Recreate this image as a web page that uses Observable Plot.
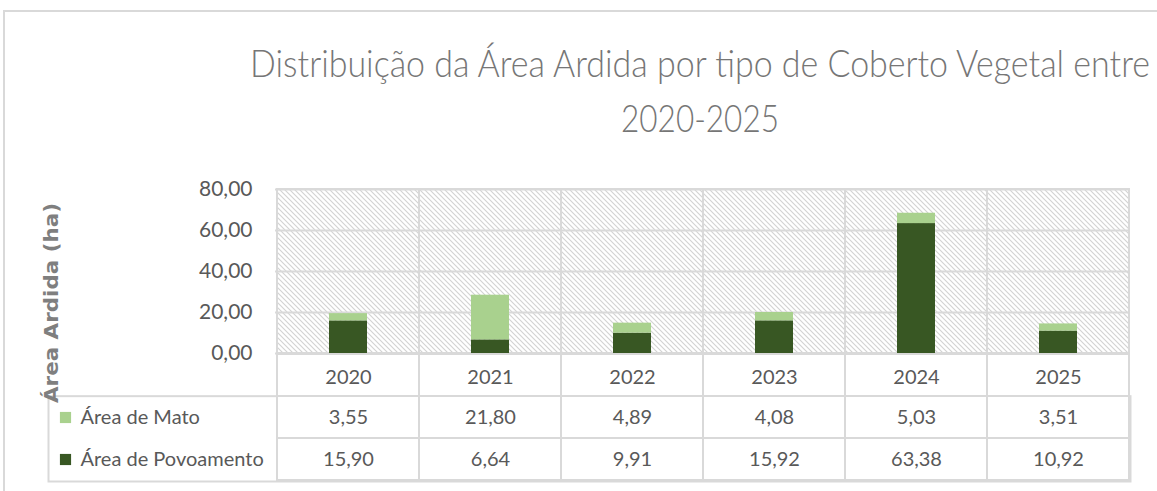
<!DOCTYPE html>
<html>
<head>
<meta charset="utf-8">
<script src="https://cdn.jsdelivr.net/npm/d3@7"></script>
<script src="https://cdn.jsdelivr.net/npm/@observablehq/plot@0.6"></script>
<style>
  html, body { margin: 0; padding: 0; background: #fff; }
  #wrap { position: relative; width: 1157px; height: 491px; overflow: hidden; background: #fff; }
  #frame { position: absolute; left: 3px; top: 10px; width: 1170px; height: 500px;
           border-top: 2px solid #d9d9d9; border-left: 2px solid #d9d9d9; box-sizing: border-box; }
  .abs { position: absolute; left: 0; }
</style>
</head>
<body>
<div id="wrap"><div id="frame"></div></div>
<script>
// ---- data ----
const years = ["2020", "2021", "2022", "2023", "2024", "2025"];
const seriesNames = ["Área de Mato", "Área de Povoamento"];
const mato = [3.55, 21.80, 4.89, 4.08, 5.03, 3.51];
const povoamento = [15.90, 6.64, 9.91, 15.92, 63.38, 10.92];
const yTicks = [0, 20, 40, 60, 80];
const seriesColors = ["#a9d18e", "#385723"];
const titleLines = ["Distribuição da Área Ardida por tipo de Coberto Vegetal entre", "2020-2025"];
const yTitle = "Área Ardida (ha)";

const fmt = v => d3.format(".2f")(v).replace(".", ",");

// long format: povoamento first so it stacks at the bottom
const long = [];
years.forEach((y, i) => {
  long.push({year: y, series: "Área de Povoamento", value: povoamento[i]});
  long.push({year: y, series: "Área de Mato", value: mato[i]});
});
const tableVals = [];
years.forEach((y, i) => {
  tableVals.push({year: y, series: "Área de Mato", value: mato[i]});
  tableVals.push({year: y, series: "Área de Povoamento", value: povoamento[i]});
});
const rowKeys = ["years", ...seriesNames];
const cellData = [];
rowKeys.forEach(r => years.forEach(y => cellData.push({year: y, row: r})));

const wrap = document.getElementById("wrap");

// ---- title (horizontally condensed to match the reference width) ----
const titleSvg = d3.create("svg").attr("width", 1157).attr("height", 150)
  .attr("class", "abs").style("top", "0px");
wrap.appendChild(titleSvg.node());
const titleSpecs = [{text: titleLines[0], y: 77, w: 900}, {text: titleLines[1], y: 132, w: 158}];
titleSpecs.forEach(s => {
  const t = titleSvg.append("text").attr("text-anchor", "middle")
    .attr("font-family", "Lato, 'Liberation Sans Narrow', sans-serif").attr("font-weight", 300)
    .attr("font-size", 37).attr("fill", "#767676").text(s.text);
  const len = t.node().getComputedTextLength() || s.w;
  t.attr("transform", `translate(700,${s.y}) scale(${s.w / len},1)`);
});

// ---- chart ----
const hatchDefs = () => {
  const defs = d3.create("svg:defs");
  const p = defs.append("pattern").attr("id", "hatch").attr("patternUnits", "userSpaceOnUse")
    .attr("width", 5).attr("height", 5);
  p.append("rect").attr("width", 5).attr("height", 5).attr("fill", "#ffffff");
  p.append("path").attr("d", "M-1,-1L6,6M-1,4L1,6M4,-1L6,1")
    .attr("stroke", "#d2d2d2").attr("stroke-width", 1.1);
  return defs.node();
};

const chart = Plot.plot({
  width: 1157,
  height: 360,
  marginTop: 189,
  marginBottom: 7,
  marginLeft: 275,
  marginRight: 27,
  style: {fontFamily: "Lato, sans-serif", fontSize: "21px", color: "#595959", overflow: "visible", background: "transparent"},
  x: {type: "band", domain: years, padding: 0, axis: null},
  y: {domain: [0, 80], axis: null},
  color: {domain: seriesNames, range: seriesColors},
  marks: [
    hatchDefs,
    Plot.cell(years, {x: d => d, fill: "url(#hatch)", stroke: "#d9d9d9", strokeWidth: 2}),
    Plot.ruleY(yTicks, {stroke: "#d9d9d9", strokeWidth: 2}),
    Plot.barY(long, {x: "year", y: "value", fill: "series", insetLeft: 52, insetRight: 52}),
    Plot.axisY({ticks: yTicks, tickFormat: fmt, tickSize: 0, tickPadding: 23, fontSize: 21, label: null})
  ]
});
chart.setAttribute("class", "abs");
chart.style.top = "0px";
wrap.appendChild(chart);

// ---- data table ----
const table = Plot.plot({
  width: 1157,
  height: 132,
  marginTop: 0,
  marginBottom: 4,
  marginLeft: 275,
  marginRight: 27,
  style: {fontFamily: "Lato, sans-serif", fontSize: "20px", color: "#595959", overflow: "visible", background: "transparent"},
  x: {type: "band", domain: years, padding: 0, axis: null},
  y: {type: "band", domain: rowKeys, padding: 0, axis: null},
  color: {domain: seriesNames, range: seriesColors},
  marks: [
    Plot.frame({insetTop: 128 / 3, insetLeft: -227, stroke: "#d9d9d9", strokeWidth: 2}),
    Plot.cell(cellData, {x: "year", y: "row", fill: "white", stroke: "#d9d9d9", strokeWidth: 2}),
    Plot.text(years, {x: d => d, y: () => "years", text: d => d, fill: "#595959", fontSize: 20, dy: 2}),
    Plot.text(tableVals, {x: "year", y: "series", text: d => fmt(d.value), fill: "#595959", fontSize: 20}),
    Plot.dot(seriesNames, {y: d => d, frameAnchor: "left", dx: -210, symbol: "square", r: 6.3, fill: d => d}),
    Plot.text(seriesNames, {y: d => d, text: d => d, frameAnchor: "left", textAnchor: "start", dx: -195, fill: "#595959", fontSize: 20})
  ]
});
table.setAttribute("class", "abs");
table.style.top = "353px";
wrap.appendChild(table);

// ---- y axis title (overlay) ----
const ySvg = d3.create("svg").attr("width", 120).attr("height", 491)
  .attr("class", "abs").style("top", "0px").style("overflow", "visible");
ySvg.append("text").attr("transform", "translate(51,303) rotate(-90)")
  .attr("text-anchor", "middle").attr("dominant-baseline", "central")
  .attr("font-family", "'DejaVu Sans', sans-serif").attr("font-weight", "bold")
  .attr("font-size", 20).attr("fill", "#7f7f7f")
  .attr("textLength", 200).attr("lengthAdjust", "spacingAndGlyphs").text(yTitle);
wrap.appendChild(ySvg.node());
</script>
</body>
</html>
